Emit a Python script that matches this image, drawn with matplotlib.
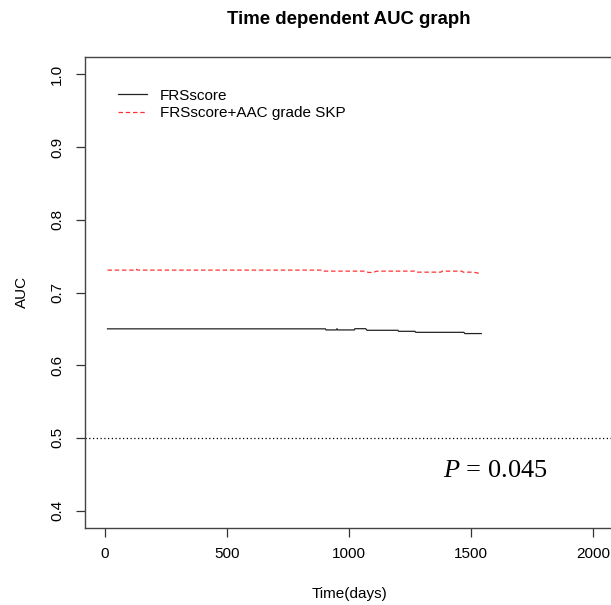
import matplotlib
matplotlib.use("Agg")
import matplotlib.pyplot as plt

# time dependent AUC
days_base = [12, 904, 906, 948, 951, 953, 1022, 1024, 1068, 1074, 1200,
             1203, 1270, 1273, 1470, 1474, 1541]
auc_base = [0.650, 0.650, 0.6485, 0.6485, 0.6502, 0.6485, 0.6485, 0.6502,
            0.6502, 0.648, 0.648, 0.6466, 0.6466, 0.6452, 0.6452, 0.6435,
            0.6435]

days_aac = [12, 128, 131, 134, 895, 899, 1067, 1079, 1096, 1116, 1269, 1273,
            1376, 1381, 1462, 1467, 1509, 1529, 1541]
auc_aac = [0.7308, 0.7308, 0.732, 0.7308, 0.7308, 0.7294, 0.7294, 0.7276,
           0.7276, 0.7294, 0.7294, 0.728, 0.728, 0.7294, 0.7294, 0.728,
           0.728, 0.7266, 0.7257]

labels = ["FRSscore", "FRSscore+AAC grade SKP"]
x_ticks = [0, 500, 1000, 1500, 2000]
y_ticks = [0.4, 0.5, 0.6, 0.7, 0.8, 0.9, 1.0]
ref_auc = 0.5
p_text = (1600, 0.454)

plt.rcParams['font.family'] = ['Liberation Sans', 'DejaVu Sans']
plt.rcParams['mathtext.fontset'] = 'custom'
plt.rcParams['mathtext.rm'] = 'Liberation Serif'
plt.rcParams['mathtext.it'] = 'Liberation Serif:italic'

W, H = 611, 605
fs = 11
fig = plt.figure(figsize=(W / 100, H / 100), dpi=100)
ax = fig.add_axes([85 / W, 77 / H, 528 / W, 471 / H])

ax.plot(days_base, auc_base, color='#222222', lw=0.9, label=labels[0])
ax.plot(days_aac, auc_aac, color='#ff3333', lw=0.9, ls=(0, (3.6, 2.2)),
        label=labels[1])
ax.axhline(ref_auc, color='black', lw=0.9, ls=(0, (1, 2)))

ax.set_xlim(-80, 2080)
ax.set_ylim(0.376, 1.024)
ax.set_xticks(x_ticks)
ax.set_yticks(y_ticks)
ax.set_xticklabels([str(t) for t in x_ticks])
ax.set_yticklabels(["%.1f" % t for t in y_ticks], rotation=90, va='center')
ax.tick_params(axis='both', length=6.2, width=0.9, labelsize=fs,
               color='#333333')
ax.tick_params(axis='x', pad=7.5)
ax.tick_params(axis='y', pad=9)
for s in ax.spines.values():
    s.set_color('#444444')
    s.set_linewidth(1)

ax.text(p_text[0], p_text[1], r'$\it{P}$ = 0.045', fontsize=19,
        family='Liberation Serif', ha='center', va='center')

ax.legend(loc='upper left', bbox_to_anchor=(0.05, 0.946), frameon=False,
          fontsize=fs, handlelength=1.9, handletextpad=0.85,
          labelspacing=0.25, borderaxespad=0)

fig.text(349 / W, 1 - 20 / H, "Time dependent AUC graph", fontsize=13.4,
         fontweight='bold', ha='center', va='center')
fig.text(349 / W, 1 - 594 / H, "Time(days)", fontsize=fs,
         ha='center', va='center')
fig.text(22 / W, 1 - 292 / H, "AUC", fontsize=fs, rotation=90,
         ha='center', va='center')

fig.savefig("out.png", dpi=100)
